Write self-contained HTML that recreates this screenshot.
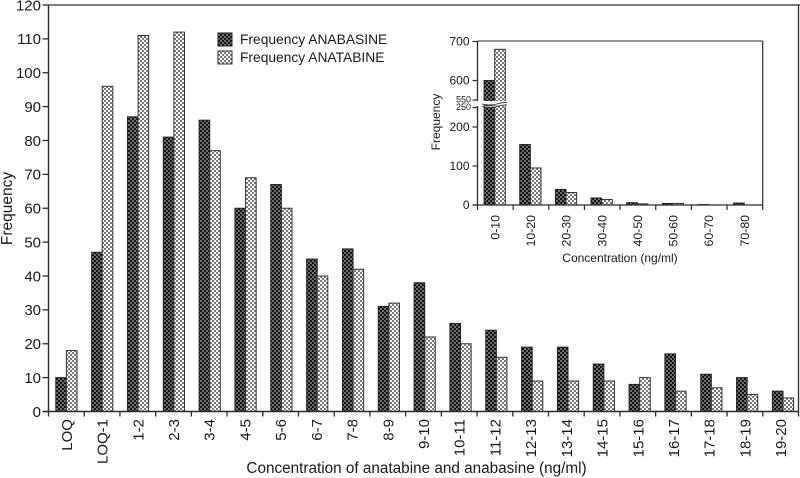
<!DOCTYPE html>
<html>
<head>
<meta charset="utf-8">
<style>
html,body{margin:0;padding:0;background:#fff;}
svg{display:block;font-family:"Liberation Sans",sans-serif;fill:#1a1a1a;}
</style>
</head>
<body>
<svg id="chart" width="800" height="478" viewBox="0 0 800 478" xmlns="http://www.w3.org/2000/svg">
<defs>
<pattern id="darkFill" width="4" height="4" patternUnits="userSpaceOnUse">
<rect width="4" height="4" fill="#141414"/>
<rect x="0" y="0" width="2" height="2" fill="#6e6e6e"/>
<rect x="2" y="2" width="2" height="2" fill="#6e6e6e"/>
</pattern>
<pattern id="lightFill" width="4" height="4" patternUnits="userSpaceOnUse">
<rect width="4" height="4" fill="#fafafa"/>
<rect x="0" y="0" width="2" height="2" fill="#7a7a7a"/>
<rect x="2" y="2" width="2" height="2" fill="#7a7a7a"/>
</pattern>
</defs>
<g id="main"></g>
<g id="inset"></g>
<g>
<g>
<rect x="218" y="33" width="14" height="13" fill="url(#darkFill)" stroke="#222" stroke-width="1"/>
<text x="240" y="44" font-size="13.8">Frequency ANABASINE</text>
</g>
<g>
<rect x="218" y="51" width="14" height="13" fill="url(#lightFill)" stroke="#333" stroke-width="1"/>
<text x="240" y="62" font-size="13.8">Frequency ANATABINE</text>
</g>
</g>
</svg>
<script>
const mainCategories = ["LOQ","LOQ-1","1-2","2-3","3-4","4-5","5-6","6-7","7-8","8-9","9-10","10-11","11-12","12-13","13-14","14-15","15-16","16-17","17-18","18-19","19-20"];
const mainAnabasine = [10,47,87,81,86,60,67,45,48,31,38,26,24,19,19,14,8,17,11,10,6];
const mainAnatabine = [18,96,111,112,77,69,60,40,42,32,22,20,16,9,9,9,10,6,7,5,4];
const mainTicks = [0,10,20,30,40,50,60,70,80,90,100,110,120];
const insetCategories = ["0-10","10-20","20-30","30-40","40-50","50-60","60-70","70-80"];
const insetAnabasine = [600,155,40,18,6,4,1,5];
const insetAnatabine = [680,95,32,14,3,4,0,0];
const insetTicks = [0,100,200,250,550,600,700];

const NS = "http://www.w3.org/2000/svg";
function mk(parent, tag, attrs, text) {
  const el = document.createElementNS(NS, tag);
  for (const k in attrs) el.setAttribute(k, attrs[k]);
  if (text !== undefined) el.textContent = text;
  parent.appendChild(el);
  return el;
}
const axisColor = "#2a2a2a";

/* main chart */
const mainG = document.getElementById("main");
const mL = 48.5, mR = 798.5, mB = 411.5, mT = 5;
const mY = v => mB - v * (mB - mT) / 120;
const mStep = (mR - mL) / mainCategories.length;
const mX = i => mL + mStep * i;
const mBarX = i => 55.8 + 35.83 * i;

function drawBars(g, cats, a, b, xf, yf, base, w) {
  cats.forEach((c, i) => {
    [[a, "url(#darkFill)", "#222", 0], [b, "url(#lightFill)", "#333", 1]].forEach(s => {
      const v = s[0][i];
      const top = yf(v);
      const r = mk(g, "rect", {x: xf(i) + s[3] * w, y: top, width: w, height: Math.max(0, base - top), fill: s[1], stroke: s[2], "stroke-width": 1});
      
      
    });
  });
}
drawBars(mainG, mainCategories, mainAnabasine, mainAnatabine, mBarX, mY, mB, 10.6);

function line(g, x1, y1, x2, y2, col, sw) {
  const l = mk(g, "line", {x1, y1, x2, y2, stroke: col, "stroke-width": sw});
  
  
  return l;
}
line(mainG, mL, mT, 800, mT, "#555", 1.4);
line(mainG, mR, mT, mR, mB, axisColor, 1.3);
line(mainG, mL, mT, mL, mB, axisColor, 1.4);
line(mainG, mL - 6, mB, mR, mB, axisColor, 1.4);

mainTicks.forEach(t => {
  line(mainG, mL - 6, mY(t), mL, mY(t), axisColor, 1.3);
  const lb = mk(mainG, "text", {x: 41, y: mY(t) + 5.3, "text-anchor": "end", "font-size": 15}, String(t));
  
  
});
mainCategories.forEach((c, i) => {
  line(mainG, mX(i), mB, mX(i), mB + 5, axisColor, 1.3);
  const cx = mX(i) + mStep / 2 + 5.5;
  const lb = mk(mainG, "text", {x: cx, y: 419, "text-anchor": "end", "font-size": 15, transform: "rotate(-90 " + cx + " 419)"}, c);
  
  
});
line(mainG, mR, mB, mR, mB + 5, axisColor, 1.3);
const mxTitle = mk(mainG, "text", {x: 416.5, y: 473, "text-anchor": "middle", "font-size": 15.3}, "Concentration of anatabine and anabasine (ng/ml)");


const myTitle = mk(mainG, "text", {x: 12, y: 208.5, "text-anchor": "middle", "font-size": 15.5, transform: "rotate(-90 12 208.5)"}, "Frequency");



/* inset chart: broken y axis (0-250 lower, 550-700 upper) */
const inG = document.getElementById("inset");
const iL = 477.5, iR = 762.7, iB = 205, iT = 41;
const iPx = 0.39;
const iY = v => v <= 250 ? iB - v * iPx : 100 - (v - 550) * iPx;
const iStep = (iR - iL) / insetCategories.length;
const iX = i => iL + iStep * i;
const iBarX = i => iX(i) + 6.6;
drawBars(inG, insetCategories, insetAnabasine, insetAnatabine, iBarX, iY, iB, 10.6);

line(inG, iL, iT, iR, iT, "#555", 1.3);
line(inG, iR, iT, iR, iB, axisColor, 1.2);
line(inG, iL, iT, iL, iB, axisColor, 1.3);
line(inG, iL - 5, iB, iR, iB, axisColor, 1.3);

const brk = mk(inG, "path", {d: "M476 101 H509 V104 L507 104 Q500 106 492 105 T482 104 L482 106 Q490 107.5 497 106.5 T508 105 V106 H476 Z", fill: "#fff", stroke: "none"});


const brkA = mk(inG, "path", {d: "M482 104 Q490 106 497 104 T507 102.5", fill: "none", stroke: "#333", "stroke-width": 0.9});


const brkB = mk(inG, "path", {d: "M482 106.5 Q490 108.5 497 106.5 T507 105", fill: "none", stroke: "#333", "stroke-width": 0.9});



insetTicks.forEach(t => {
  const small = t === 250 || t === 550;
  line(inG, iL - 5, iY(t), iL, iY(t), axisColor, 1.2);
  const lb = mk(inG, "text", {x: small ? 471 : 469.5, y: iY(t) + (small ? 2.5 : 4.2), "text-anchor": "end", "font-size": small ? 9 : 12}, String(t));
  
  
});
insetCategories.forEach((c, i) => {
  line(inG, iX(i), iB, iX(i), iB + 5, axisColor, 1.2);
  const cx = iX(i) + iStep / 2 + 4;
  const lb = mk(inG, "text", {x: cx, y: 215, "text-anchor": "end", "font-size": 12.3, transform: "rotate(-90 " + cx + " 215)"}, c);
  
  
});
line(inG, iR, iB, iR, iB + 5, axisColor, 1.2);
const ixTitle = mk(inG, "text", {x: 620, y: 262, "text-anchor": "middle", "font-size": 12}, "Concentration (ng/ml)");


const iyTitle = mk(inG, "text", {x: 440, y: 122, "text-anchor": "middle", "font-size": 12, transform: "rotate(-90 440 122)"}, "Frequency");


</script>
</body>
</html>
